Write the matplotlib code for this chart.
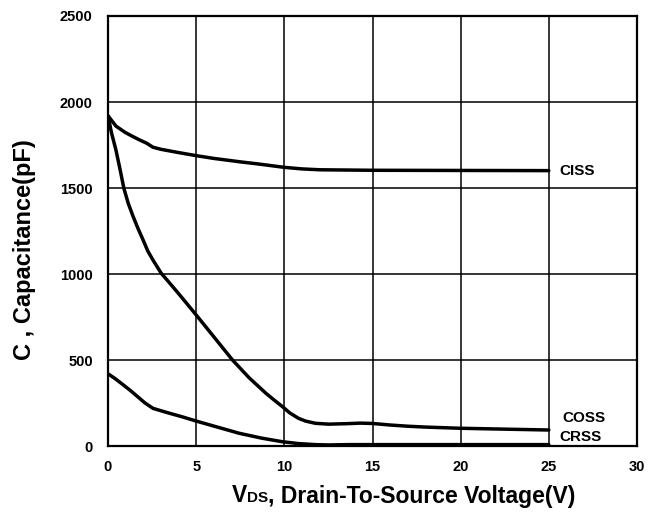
import matplotlib
matplotlib.use("Agg")
import matplotlib.pyplot as plt
from matplotlib.offsetbox import TextArea, HPacker, AnnotationBbox

plt.rcParams['font.family'] = ['Liberation Sans', 'DejaVu Sans']
plt.rcParams['font.weight'] = 'bold'

# Data
ciss_x = [0, 0.45, 0.96, 1.3, 1.8, 2.2, 2.55, 3.0, 4.0, 5.0, 6.0, 7.5, 8.5, 10.0, 11.0, 12.0, 15.0, 20.0, 25.0]
ciss_y = [1920, 1860, 1824, 1805, 1779, 1760, 1737, 1725, 1706, 1688, 1672, 1652, 1640, 1620, 1611, 1606, 1603, 1602, 1601]

coss_x = [0, 0.2, 0.45, 0.70, 0.90, 1.15, 1.43, 1.70, 1.99, 2.25, 2.55, 3.02, 3.6, 4.15, 5.0, 6.0, 7.06, 8.0,
          8.95, 9.4, 9.88, 10.3, 10.8, 11.2, 11.76, 12.5, 13.6, 14.3, 15.0, 16.0, 17.0, 18.0, 20.0, 22.5, 25.0]
coss_y = [1920, 1820, 1721, 1600, 1498, 1410, 1333, 1265, 1198, 1135, 1081, 1004, 935, 868, 762, 635, 500, 397,
          307, 269, 230, 193, 161, 145, 132, 127, 130, 133, 131, 122, 115, 110, 103, 98, 93]

crss_x = [0, 0.4, 0.87, 1.3, 1.7, 2.1, 2.55, 3.0, 3.5, 4.2, 5.0, 6.2, 7.44, 8.7, 9.88, 10.8, 11.76, 12.5, 13.6, 15.0, 20.0, 25.0]
crss_y = [420, 392, 355, 320, 285, 250, 219, 205, 190, 170, 145, 110, 74, 46, 25, 14, 8, 6, 8, 8, 8, 8]

series_labels = ["CISS", "COSS", "CRSS"]
label_pos = [(25.6, 1600), (25.75, 160), (25.6, 53)]

x_ticks = [0, 5, 10, 15, 20, 25, 30]
y_ticks = [0, 500, 1000, 1500, 2000, 2500]

fig = plt.figure(figsize=(6.6, 5.14), dpi=100)
ax = fig.add_axes([108/660, 1 - 446/514, (637-108)/660, (446-16)/514])

for xs, ys in [(ciss_x, ciss_y), (coss_x, coss_y), (crss_x, crss_y)]:
    ax.plot(xs, ys, color='black', lw=2.5, solid_capstyle='round', solid_joinstyle='round', zorder=3)

for lab, (lx, ly) in zip(series_labels, label_pos):
    ax.text(lx, ly, lab, fontsize=11, fontweight='bold', ha='left', va='center')

ax.set_xlim(0, 30)
ax.set_ylim(0, 2500)
ax.set_xticks(x_ticks)
ax.set_yticks(y_ticks)
ax.set_xticklabels([str(v) for v in x_ticks], fontsize=10.5, fontweight='bold')
ax.set_yticklabels([str(v) for v in y_ticks], fontsize=10.5, fontweight='bold')
ax.tick_params(axis='both', length=0)
ax.tick_params(axis='y', pad=11)
ax.tick_params(axis='x', pad=10)
ax.grid(True, color='black', lw=1.1)
ax.set_axisbelow(True)
for s in ax.spines.values():
    s.set_linewidth(1.6)
    s.set_color('black')

# y label
fig.text(25/660, 1 - 250/514, "C , Capacitance(pF)", rotation=90, ha='center', va='center',
         fontsize=17, fontweight='bold')

# x label with small "DS"
parts = [TextArea("V", textprops=dict(fontsize=16.5, fontweight='bold')),
         TextArea("DS", textprops=dict(fontsize=11, fontweight='bold')),
         TextArea(", Drain-To-Source Voltage(V)", textprops=dict(fontsize=16.5, fontweight='bold'))]
pack = HPacker(children=parts, align="baseline", pad=0, sep=0)
ab = AnnotationBbox(pack, (404/660, 1 - 496/514), xycoords='figure fraction', frameon=False,
                    box_alignment=(0.5, 0.5))
fig.add_artist(ab)

fig.savefig("out.png", dpi=100)
